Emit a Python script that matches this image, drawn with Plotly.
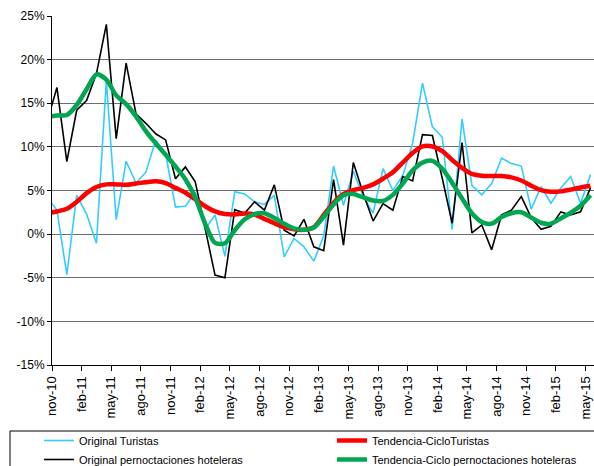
import plotly.graph_objects as go

# Months (oct-10 lies just left of the axis and is clipped, as in the original)
months = ["oct-10", "nov-10", "dic-10",
          "ene-11", "feb-11", "mar-11", "abr-11", "may-11", "jun-11", "jul-11", "ago-11", "sep-11", "oct-11", "nov-11", "dic-11",
          "ene-12", "feb-12", "mar-12", "abr-12", "may-12", "jun-12", "jul-12", "ago-12", "sep-12", "oct-12", "nov-12", "dic-12",
          "ene-13", "feb-13", "mar-13", "abr-13", "may-13", "jun-13", "jul-13", "ago-13", "sep-13", "oct-13", "nov-13", "dic-13",
          "ene-14", "feb-14", "mar-14", "abr-14", "may-14", "jun-14", "jul-14", "ago-14", "sep-14", "oct-14", "nov-14", "dic-14",
          "ene-15", "feb-15", "mar-15", "abr-15", "may-15"]

original_turistas = [4.2, 2.75, -4.65,
                     4.45, 2.3, -1.05, 17.6, 1.65, 8.35, 5.85, 7.1, 10.8, 9.2, 3.1, 3.2,
                     4.8, 0.55, 2.2, -2.55, 4.85, 4.6, 3.7, 3.4, 4.45, -2.6, -0.5, -1.45,
                     -3.1, -0.2, 7.8, 3.3, 7.2, 4.3, 2.4, 7.5, 5.0, 6.7, 10.4, 17.3,
                     12.3, 11.1, 0.55, 13.2, 5.6, 4.5, 5.8, 8.7, 8.1, 7.8, 2.85, 5.45,
                     3.55, 5.3, 6.6, 3.5, 6.8]

original_pernoct = [12.9, 16.8, 8.3,
                    14.2, 15.3, 18.4, 24.05, 10.95, 19.6, 13.8, 12.7, 11.5, 10.8, 6.35, 7.7,
                    6.0, 0.65, -4.7, -5.0, 2.8, 2.4, 3.7, 2.75, 5.65, 0.45, -0.2, 1.7,
                    -1.45, -1.9, 6.25, -1.25, 8.2, 4.65, 1.5, 3.5, 2.75, 6.6, 6.1, 11.4,
                    11.3, 6.4, 1.25, 10.5, 0.15, 1.05, -1.8, 2.2, 2.75, 4.3, 1.9, 0.55,
                    0.9, 2.55, 2.2, 2.55, 5.3]

tc_turistas = [2.4, 2.6, 2.9,
               3.7, 4.7, 5.4, 5.7, 5.7, 5.65, 5.8, 5.95, 6.05, 5.85, 5.3, 4.75,
               4.0, 3.2, 2.6, 2.3, 2.25, 2.35, 2.25, 1.75, 1.25, 0.8, 0.55, 0.5,
               0.8, 2.2, 3.6, 4.6, 5.05, 5.3, 5.7, 6.35, 7.1, 8.2, 9.3, 10.05,
               10.05, 9.5, 8.5, 7.6, 6.9, 6.7, 6.65, 6.65, 6.5, 6.15, 5.55, 5.05,
               4.85, 4.9, 5.1, 5.35, 5.55]

tc_pernoct = [13.4, 13.6, 13.65,
              14.8, 16.6, 18.3, 17.7, 15.9, 14.9, 13.5, 11.8, 10.4, 9.1, 7.75, 6.3,
              4.2, 1.2, -1.0, -1.05, 0.45, 1.7, 2.3, 2.4, 1.85, 1.2, 0.65, 0.5,
              0.75, 2.0, 3.4, 4.45, 4.6, 4.2, 3.85, 3.8, 4.5, 5.8, 7.3, 8.2,
              8.4, 7.5, 5.9, 4.1, 2.4, 1.4, 1.2, 1.95, 2.4, 2.5, 1.9, 1.3,
              1.2, 1.8, 2.45, 3.25, 4.45]

tick_labels = ["nov-10", "feb-11", "may-11", "ago-11", "nov-11", "feb-12", "may-12",
               "ago-12", "nov-12", "feb-13", "may-13", "ago-13", "nov-13", "feb-14",
               "may-14", "ago-14", "nov-14", "feb-15", "may-15"]

y_tick_values = [-15, -10, -5, 0, 5, 10, 15, 20, 25]
y_tick_labels = ["-15%", "-10%", "-5%", "0%", "5%", "10%", "15%", "20%", "25%"]

x = list(range(len(months)))
tickvals = [months.index(t) - 0.5 for t in tick_labels]

W, H = 594, 466
ML, MR, MT, MB = 52, 0, 16, 101
pw, ph = W - ML - MR, H - MT - MB


def px_x(p):
    return (p - ML) / pw


def px_y(p):
    return (H - MB - p) / ph


FONT = "Liberation Sans, Arial, sans-serif"

fig = go.Figure()
fig.add_trace(go.Scatter(x=x, y=original_turistas, mode="lines", name="Original Turistas",
                         line=dict(color="#33CCFF", width=1.6), legendrank=1, legendwidth=248,
                         customdata=months))
fig.add_trace(go.Scatter(x=x, y=original_pernoct, mode="lines", name="Original pernoctaciones hoteleras",
                         line=dict(color="#000000", width=1.6), legendrank=3, legendwidth=248,
                         customdata=months))
fig.add_trace(go.Scatter(x=x, y=tc_turistas, mode="lines", name="Tendencia-CicloTuristas",
                         line=dict(color="#FF0000", width=4.5, shape="spline", smoothing=0.8),
                         legendrank=2, legendwidth=200, customdata=months))
fig.add_trace(go.Scatter(x=x, y=tc_pernoct, mode="lines", name="Tendencia-Ciclo pernoctaciones hoteleras",
                         line=dict(color="#00A650", width=4.5, shape="spline", smoothing=0.8),
                         legendrank=4, legendwidth=200, customdata=months))

fig.update_layout(
    width=W, height=H,
    template="none",
    paper_bgcolor="white", plot_bgcolor="white",
    margin=dict(l=ML, r=MR, t=MT, b=MB, autoexpand=False),
    font=dict(family=FONT, size=12, color="black"),
    showlegend=True,
    legend=dict(orientation="h", x=px_x(39), y=px_y(426), xanchor="left", yanchor="top",
                font=dict(family=FONT, size=11, color="black"),
                bgcolor="rgba(0,0,0,0)", borderwidth=0, itemwidth=30,
                traceorder="normal"),
    shapes=[dict(type="rect", xref="paper", yref="paper",
                 x0=px_x(10), x1=px_x(600), y0=px_y(431), y1=px_y(480),
                 line=dict(color="black", width=1), fillcolor="rgba(0,0,0,0)", layer="above")],
)

fig.update_xaxes(range=[0.5, 0.5 + pw / 9.88], tickmode="array", tickvals=tickvals, ticktext=tick_labels,
                 tickangle=-90, ticks="outside", ticklen=5, tickcolor="black", tickwidth=1,
                 showgrid=False, zeroline=False, showline=True, linecolor="black", linewidth=1,
                 tickfont=dict(family=FONT, size=13, color="black"))
fig.update_yaxes(range=[-15, 25], tickmode="array", tickvals=y_tick_values, ticktext=y_tick_labels,
                 ticks="outside", ticklen=4, tickcolor="black", tickwidth=1,
                 showgrid=True, gridcolor="#6e6e6e", gridwidth=1, zeroline=False,
                 showline=True, linecolor="black", linewidth=1,
                 tickfont=dict(family=FONT, size=12, color="black"))

fig.write_html("out.html", config={"displayModeBar": False},
               post_script="document.body.style.margin='0';document.body.style.padding='0';")
